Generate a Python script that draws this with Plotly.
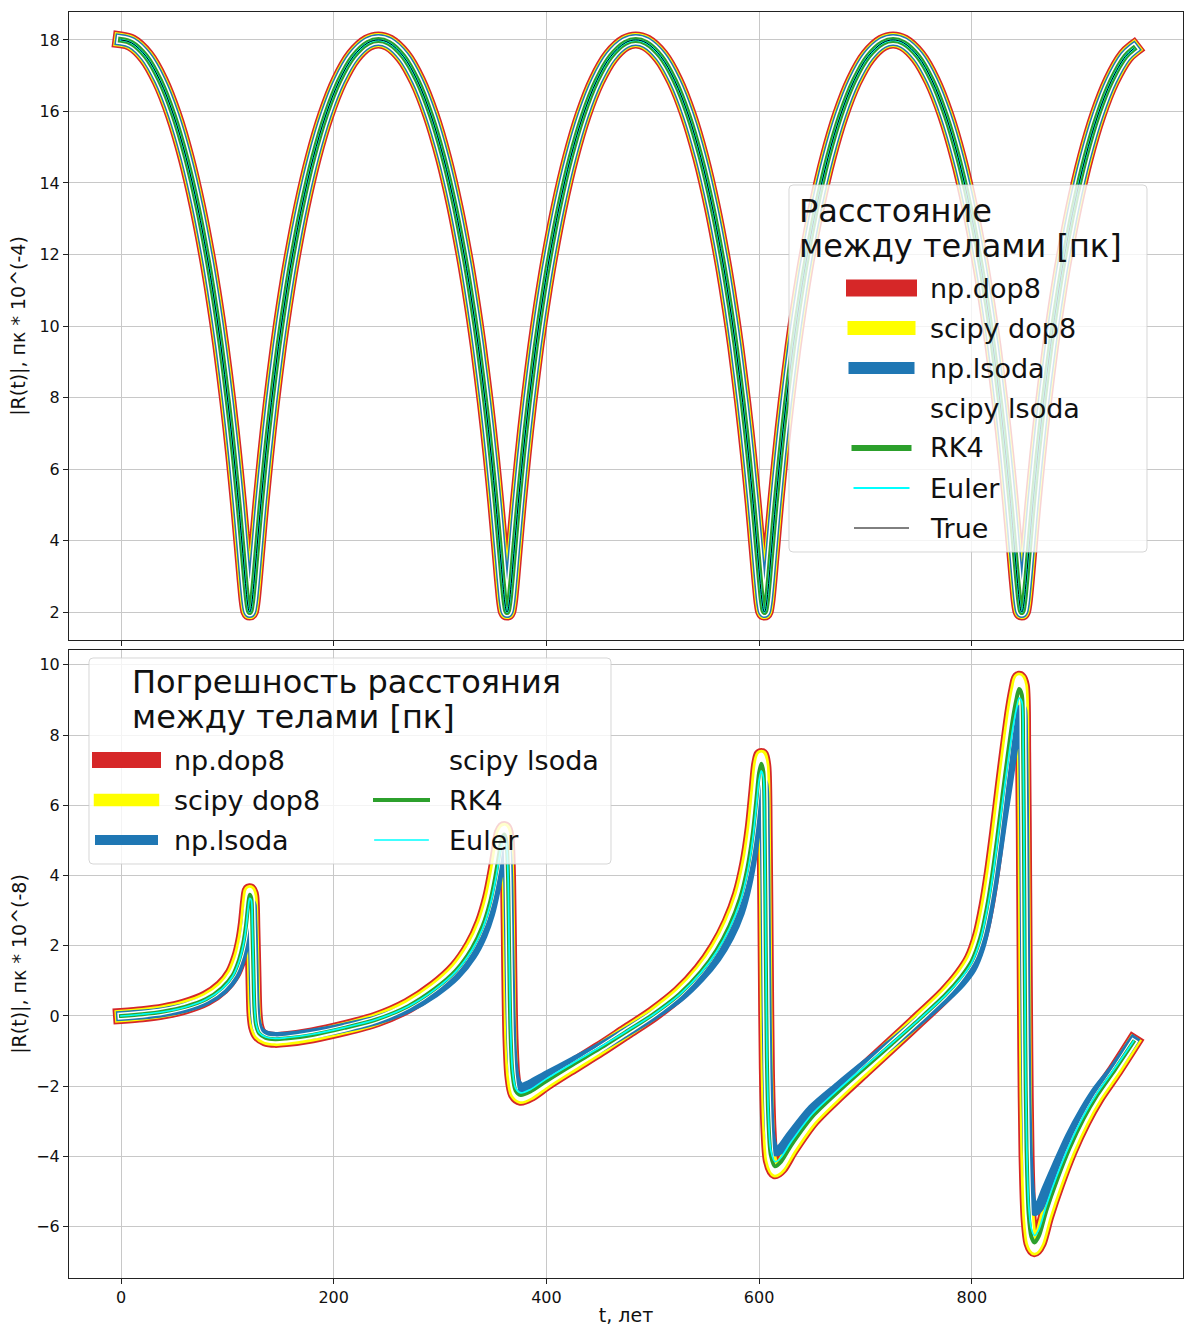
import plotly.graph_objects as go
from plotly.subplots import make_subplots

# ---------------- data ----------------
# distance between the two bodies, pc * 1e-4
t_orbit = [
    0.0, 9.8, 23.5, 36.7, 49.4, 61.2, 72.0, 81.7, 86.1, 90.2, 94.0, 97.4, 100.6, 103.5, 106.1,
    108.4, 110.5, 112.3, 113.9, 115.3, 116.5, 117.6, 118.5, 119.4, 120.2, 121.0,
    121.8, 122.6, 123.5, 124.4, 125.5, 126.7, 128.1, 129.7, 131.5, 133.6, 135.9, 138.5, 141.4,
    144.6, 148.0, 151.8, 155.9, 160.3, 170.0, 180.8, 192.6, 205.3, 218.5, 232.2, 242.0,
    251.8, 265.5, 278.7, 291.4, 303.2, 314.0, 323.7, 328.1, 332.2, 336.0, 339.4, 342.6, 345.5,
    348.1, 350.4, 352.5, 354.3, 355.9, 357.3, 358.5, 359.6, 360.5, 361.4, 362.2, 363.0,
    363.8, 364.6, 365.5, 366.4, 367.5, 368.7, 370.1, 371.7, 373.5, 375.6, 377.9, 380.5, 383.4,
    386.6, 390.0, 393.8, 397.9, 402.3, 412.0, 422.8, 434.6, 447.3, 460.5, 474.2, 484.0,
    493.8, 507.5, 520.7, 533.4, 545.2, 556.0, 565.7, 570.1, 574.2, 578.0, 581.4, 584.6, 587.5,
    590.1, 592.4, 594.5, 596.3, 597.9, 599.3, 600.5, 601.6, 602.5, 603.4, 604.2, 605.0,
    605.8, 606.6, 607.5, 608.4, 609.5, 610.7, 612.1, 613.7, 615.5, 617.6, 619.9, 622.5, 625.4,
    628.6, 632.0, 635.8, 639.9, 644.3, 654.0, 664.8, 676.6, 689.3, 702.5, 716.2, 726.0,
    735.8, 749.5, 762.7, 775.4, 787.2, 798.0, 807.7, 812.1, 816.2, 820.0, 823.4, 826.6, 829.5,
    832.1, 834.4, 836.5, 838.3, 839.9, 841.3, 842.5, 843.6, 844.5, 845.4, 846.2, 847.0,
    847.8, 848.6, 849.5, 850.4, 851.5, 852.7, 854.1, 855.7, 857.5, 859.6, 861.9, 864.5, 867.4,
    870.6, 874.0, 877.8, 881.9, 886.3, 896.0, 906.8, 918.6, 931.3, 944.5, 952.0,
]
r_orbit = [
    18.00, 17.92, 17.54, 16.86, 15.90, 14.71, 13.33, 11.82, 11.03, 10.23, 9.43, 8.64, 7.86, 7.10, 6.37,
    5.68, 5.03, 4.43, 3.88, 3.40, 2.98, 2.63, 2.36, 2.16, 2.04, 2.00,
    2.04, 2.16, 2.36, 2.63, 2.98, 3.40, 3.88, 4.43, 5.03, 5.68, 6.37, 7.10, 7.86,
    8.64, 9.43, 10.23, 11.03, 11.82, 13.33, 14.71, 15.90, 16.86, 17.54, 17.92, 18.00,
    17.92, 17.54, 16.86, 15.90, 14.71, 13.33, 11.82, 11.03, 10.23, 9.43, 8.64, 7.86, 7.10,
    6.37, 5.68, 5.03, 4.43, 3.88, 3.40, 2.98, 2.63, 2.36, 2.16, 2.04, 2.00,
    2.04, 2.16, 2.36, 2.63, 2.98, 3.40, 3.88, 4.43, 5.03, 5.68, 6.37, 7.10, 7.86,
    8.64, 9.43, 10.23, 11.03, 11.82, 13.33, 14.71, 15.90, 16.86, 17.54, 17.92, 18.00,
    17.92, 17.54, 16.86, 15.90, 14.71, 13.33, 11.82, 11.03, 10.23, 9.43, 8.64, 7.86, 7.10,
    6.37, 5.68, 5.03, 4.43, 3.88, 3.40, 2.98, 2.63, 2.36, 2.16, 2.04, 2.00,
    2.04, 2.16, 2.36, 2.63, 2.98, 3.40, 3.88, 4.43, 5.03, 5.68, 6.37, 7.10, 7.86,
    8.64, 9.43, 10.23, 11.03, 11.82, 13.33, 14.71, 15.90, 16.86, 17.54, 17.92, 18.00,
    17.92, 17.54, 16.86, 15.90, 14.71, 13.33, 11.82, 11.03, 10.23, 9.43, 8.64, 7.86, 7.10,
    6.37, 5.68, 5.03, 4.43, 3.88, 3.40, 2.98, 2.63, 2.36, 2.16, 2.04, 2.00,
    2.04, 2.16, 2.36, 2.63, 2.98, 3.40, 3.88, 4.43, 5.03, 5.68, 6.37, 7.10, 7.86,
    8.64, 9.43, 10.23, 11.03, 11.82, 13.33, 14.71, 15.90, 16.86, 17.54, 17.75,
]

# distance error, pc * 1e-8
t_err = [
    0, 20, 40, 60, 80, 95, 105, 111, 115, 117.5, 119.5, 121, 122.5, 123.5, 124.5, 125.5, 127, 130,
    136, 145, 155, 180, 210, 240, 270, 295, 315, 330, 340, 347, 352, 355.5, 358, 360.5, 362.5,
    364, 365, 366.2, 368, 371, 376, 385, 400, 425, 450, 475, 500, 525, 545, 560, 572, 582, 589,
    594, 597.5, 600, 602, 604, 605.3, 606.3, 607.3, 608.8, 611, 615, 620, 630, 650, 675, 700,
    725, 750, 775, 790, 800, 808, 814, 819, 824, 829, 834, 838.5, 842, 844.5, 847, 848.3, 849.3,
    850.3, 851.5, 853.5, 856, 859, 863, 870, 880, 892, 905, 918, 935, 952,
]
err_dop8 = [
    0.00, 0.05, 0.13, 0.27, 0.50, 0.82, 1.20, 1.65, 2.15, 2.65, 3.25, 3.55, 3.40, 2.50, 1.20, 0.10,
    -0.30, -0.52, -0.64, -0.68, -0.66, -0.55, -0.35, -0.10, 0.30, 0.80, 1.35, 2.00, 2.65, 3.35,
    4.10, 4.75, 5.20, 5.32, 5.05, 3.80, 1.50, -0.60, -1.70, -2.20, -2.33, -2.22, -1.90, -1.42,
    -0.95, -0.45, 0.05, 0.65, 1.30, 1.95, 2.65, 3.45, 4.35, 5.35, 6.40, 7.15, 7.40, 7.10, 5.00,
    1.50, -1.50, -3.20, -4.10, -4.42, -4.30, -3.80, -2.95, -2.20, -1.50, -0.80, -0.10,
    0.62, 1.15, 1.62, 2.30, 3.15, 4.10, 5.25, 6.50, 7.70, 8.70, 9.30, 9.60, 9.40, 7.50, 3.50,
    -1.00, -4.00, -5.80, -6.45, -6.64, -6.45, -5.70, -4.80, -3.85, -3.00, -2.30, -1.55, -0.75,
]
err_lsoda = [
    0.00, 0.04, 0.11, 0.23, 0.44, 0.72, 1.05, 1.45, 1.88, 2.30, 2.80, 3.15, 3.20, 2.70, 1.60, 0.40,
    -0.15, -0.42, -0.55, -0.60, -0.59, -0.50, -0.33, -0.12, 0.22, 0.66, 1.15, 1.72, 2.30, 2.90,
    3.55, 4.15, 4.60, 4.85, 4.75, 4.00, 2.20, 0.20, -1.20, -1.85, -2.05, -1.95, -1.70, -1.30,
    -0.90, -0.46, 0.00, 0.52, 1.10, 1.65, 2.25, 2.95, 3.75, 4.60, 5.50, 6.30, 6.70, 6.60, 5.40,
    2.60, -0.40, -2.40, -3.50, -3.85, -3.80, -3.40, -2.65, -2.00, -1.38, -0.78, -0.15,
    0.50, 0.95, 1.35, 1.95, 2.70, 3.55, 4.55, 5.60, 6.60, 7.55, 8.20, 8.60, 8.75, 7.80, 5.00,
    1.00, -2.50, -4.50, -5.30, -5.55, -5.45, -4.95, -4.25, -3.45, -2.72, -2.10, -1.45, -0.70,
]
err_rk4 = [
    0.00, 0.05, 0.13, 0.26, 0.48, 0.80, 1.16, 1.60, 2.08, 2.57, 3.14, 3.45, 3.35, 2.55, 1.30, 0.20,
    -0.26, -0.50, -0.62, -0.66, -0.64, -0.54, -0.34, -0.10, 0.28, 0.77, 1.30, 1.93, 2.56, 3.24,
    3.97, 4.60, 5.04, 5.17, 4.95, 3.85, 1.70, -0.40, -1.60, -2.12, -2.25, -2.15, -1.85, -1.38,
    -0.93, -0.45, 0.04, 0.62, 1.25, 1.88, 2.56, 3.34, 4.21, 5.18, 6.18, 6.92, 7.18, 6.95, 5.10,
    1.80, -1.20, -3.00, -3.95, -4.28, -4.17, -3.69, -2.87, -2.14, -1.46, -0.79, -0.11,
    0.60, 1.12, 1.57, 2.23, 3.06, 3.98, 5.09, 6.31, 7.47, 8.44, 9.02, 9.31, 9.15, 7.55, 3.75,
    -0.80, -3.80, -5.65, -6.28, -6.45, -6.27, -5.55, -4.68, -3.76, -2.93, -2.25, -1.51, -0.74,
]
err_euler = [
    0.00, 0.05, 0.12, 0.25, 0.47, 0.77, 1.13, 1.55, 2.02, 2.49, 3.05, 3.35, 3.30, 2.60, 1.40, 0.28,
    -0.22, -0.48, -0.60, -0.64, -0.62, -0.52, -0.33, -0.10, 0.27, 0.75, 1.27, 1.88, 2.49, 3.15,
    3.85, 4.47, 4.89, 5.02, 4.85, 3.90, 1.85, -0.20, -1.50, -2.05, -2.19, -2.09, -1.79, -1.34,
    -0.90, -0.44, 0.03, 0.60, 1.22, 1.83, 2.49, 3.24, 4.09, 5.03, 6.00, 6.72, 6.98, 6.80, 5.20,
    2.00, -0.95, -2.85, -3.82, -4.15, -4.05, -3.59, -2.79, -2.08, -1.42, -0.77, -0.11,
    0.58, 1.08, 1.52, 2.16, 2.96, 3.85, 4.94, 6.11, 7.24, 8.18, 8.75, 9.05, 8.95, 7.60, 4.00,
    -0.50, -3.50, -5.40, -6.05, -6.25, -6.08, -5.40, -4.55, -3.66, -2.85, -2.19, -1.47, -0.72,
]

x_ticks = [0, 200, 400, 600, 800]
top_ticks = [2, 4, 6, 8, 10, 12, 14, 16, 18]
bottom_ticks = [-6, -4, -2, 0, 2, 4, 6, 8, 10]

RED, YELLOW, BLUE, GREEN = "#d62728", "#ffff00", "#1f77b4", "#2ca02c"
CYAN, WHITE, BLACK = "#00ffff", "#ffffff", "#000000"

# (label, colour, width, values)
top_series = [
    ("np.dop8", RED, 17, r_orbit),
    ("scipy dop8", YELLOW, 14, r_orbit),
    ("np.lsoda", BLUE, 12, r_orbit),
    ("scipy lsoda", WHITE, 9, r_orbit),
    ("RK4", GREEN, 6, r_orbit),
    ("Euler", CYAN, 2, r_orbit),
    ("True", BLACK, 1, r_orbit),
]
bottom_series = [
    ("np.dop8", RED, 16, err_dop8),
    ("scipy dop8", YELLOW, 12.5, err_dop8),
    ("np.lsoda", BLUE, 10, err_lsoda),
    ("scipy lsoda", WHITE, 7, err_dop8),
    ("RK4", GREEN, 4, err_rk4),
    ("Euler", CYAN, 1.7, err_euler),
]

FONT = "DejaVu Sans"
W, H = 1185, 1326
ML, MR, MT, MB = 69, 2, 12, 48
PW, PH = W - ML - MR, H - MT - MB

fig = make_subplots(rows=2, cols=1, shared_xaxes=True, vertical_spacing=10 / PH)

for name, color, width, ys in top_series:
    fig.add_trace(go.Scatter(x=t_orbit, y=ys, mode="lines", name=name,
                             line=dict(color=color, width=width, shape="spline", smoothing=1.0),
                             showlegend=False, hoverinfo="skip"), row=1, col=1)
for name, color, width, ys in bottom_series:
    fig.add_trace(go.Scatter(x=t_err, y=ys, mode="lines", name=name,
                             line=dict(color=color, width=width, shape="spline", smoothing=0.8),
                             showlegend=False, hoverinfo="skip"), row=2, col=1)

axis_common = dict(
    showline=True, linecolor="#222222", linewidth=1, mirror=True,
    showgrid=True, gridcolor="#c8c8c8", gridwidth=1, zeroline=False,
    ticks="outside", ticklen=5, tickwidth=1, tickcolor="#222222",
    tickfont=dict(family=FONT, size=16, color="#111111"),
)
fig.update_xaxes(**axis_common, range=[-48.9, 998.6], tickvals=x_ticks)
fig.update_xaxes(showticklabels=False, row=1, col=1)
fig.update_xaxes(title=dict(text="t, лет", font=dict(family=FONT, size=19, color="#111111"),
                            standoff=2), row=2, col=1)
fig.update_yaxes(**axis_common)
fig.update_yaxes(range=[1.22, 18.78], tickvals=top_ticks,
                 title=dict(text="|R(t)|, пк * 10^(-4)",
                            font=dict(family=FONT, size=19, color="#111111"), standoff=8),
                 row=1, col=1)
fig.update_yaxes(range=[-7.46, 10.42], tickvals=bottom_ticks,
                 title=dict(text="|R(t)|, пк * 10^(-8)",
                            font=dict(family=FONT, size=19, color="#111111"), standoff=4),
                 row=2, col=1)


# ---------------- hand-built legends (pixel -> paper) ----------------
def px(x):
    return (x - ML) / PW


def py(y):
    return (MT + PH - y) / PH


def rounded_box(x0, y0, x1, y1, r=4):
    rx, ry = r / PW, r / PH
    X0, X1, Y0, Y1 = px(x0), px(x1), py(y0), py(y1)  # Y0 is the top edge
    return (f"M {X0 + rx},{Y0} L {X1 - rx},{Y0} Q {X1},{Y0} {X1},{Y0 - ry} "
            f"L {X1},{Y1 + ry} Q {X1},{Y1} {X1 - rx},{Y1} L {X0 + rx},{Y1} "
            f"Q {X0},{Y1} {X0},{Y1 + ry} L {X0},{Y0 - ry} Q {X0},{Y0} {X0 + rx},{Y0} Z")


shapes, annotations = [], []


def legend_box(x0, y0, x1, y1):
    shapes.append(dict(type="path", path=rounded_box(x0, y0, x1, y1), xref="paper", yref="paper",
                       fillcolor="rgba(255,255,255,0.8)",
                       line=dict(color="rgba(204,204,204,0.8)", width=1), layer="above"))


def legend_text(x, y, text, size):
    annotations.append(dict(x=px(x), y=py(y), xref="paper", yref="paper", text=text,
                            showarrow=False, xanchor="left", yanchor="middle",
                            font=dict(family=FONT, size=size, color="#111111")))


def legend_line(x0, x1, y, color, width):
    if color == WHITE:
        return
    h = width / 2  # projecting caps
    shapes.append(dict(type="line", xref="paper", yref="paper",
                       x0=px(x0 - h), x1=px(x1 + h), y0=py(y), y1=py(y),
                       line=dict(color=color, width=width), layer="above"))


# top legend
legend_box(789, 185, 1147, 552)
legend_text(797, 211, "Расстояние", 32)
legend_text(797, 246, "между телами [пк]", 32)
for i, (name, color, width, _) in enumerate(top_series):
    yy = 288 + 40 * i
    legend_line(854.5, 908.5, yy, color, width)
    legend_text(928, yy, name, 27)

# bottom legend
legend_box(89, 658, 611, 864)
legend_text(130, 682, "Погрешность расстояния", 32)
legend_text(130, 717, "между телами [пк]", 32)
for i, (name, color, width, _) in enumerate(bottom_series):
    col, row = divmod(i, 3)
    yy = 760 + 40 * row
    if col == 0:
        legend_line(100, 153, yy, color, width)
        legend_text(172, yy, name, 27)
    else:
        legend_line(375, 428, yy, color, width)
        legend_text(447, yy, name, 27)

fig.update_layout(
    width=W, height=H, margin=dict(l=ML, r=MR, t=MT, b=MB),
    paper_bgcolor="white", plot_bgcolor="white",
    font=dict(family=FONT, color="#111111"),
    showlegend=False, shapes=shapes, annotations=annotations,
)

line_style = ("var s=document.createElement('style');"
              "s.textContent='.js-line{stroke-linejoin:round!important;"
              "stroke-linecap:square!important;}';"
              "document.head.appendChild(s);")
fig.write_html("out.html", post_script=line_style)
